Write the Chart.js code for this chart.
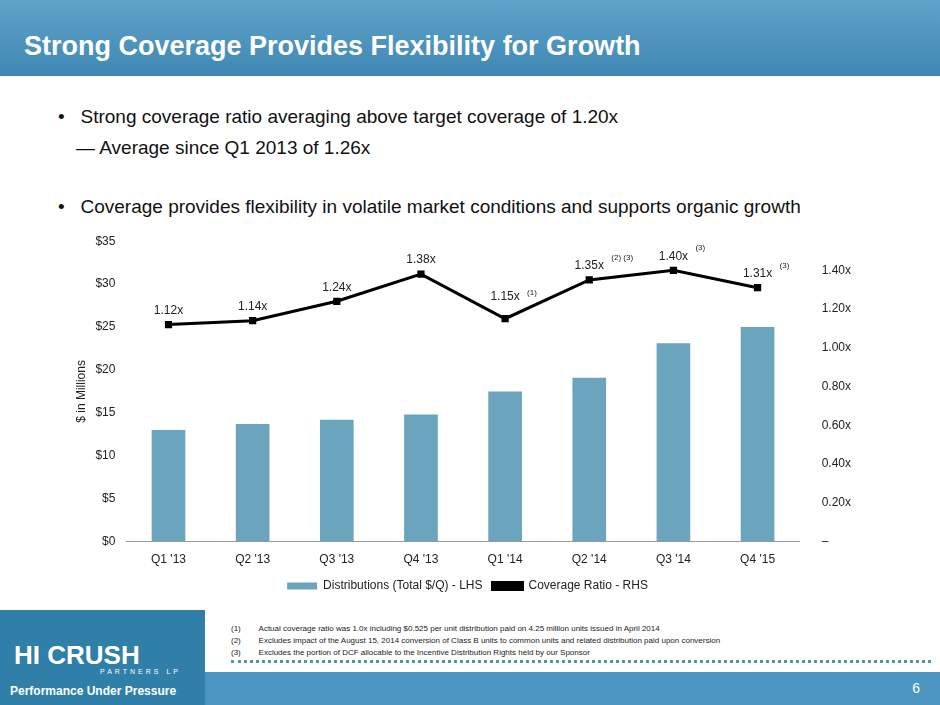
<!DOCTYPE html>
<html><head><meta charset="utf-8">
<script src="https://cdn.jsdelivr.net/npm/chart.js@4"></script>
<style>
body{margin:0;width:940px;height:705px;position:relative;overflow:hidden;background:#fff;font-family:"Liberation Sans",Arial,sans-serif}
#hdr{position:absolute;left:0;top:0;width:940px;height:76px;background:linear-gradient(180deg,#5fa3c9,#3f87b3)}
#hdr h1{margin:0;position:absolute;left:24px;top:31px;color:#fff;font-size:27px;font-weight:bold}
.b{position:absolute;font-size:19px;color:#111}
#foot{position:absolute;left:0;top:672px;width:940px;height:33px;background:#4b95c0}
#logo{position:absolute;left:0;top:610px;width:205px;height:95px;background:#2f7fa9;color:#fff}
.fn{position:absolute;font-size:8px;color:#222;left:231px}
#dots{position:absolute;left:231px;top:660px;width:700px;border-top:3px dotted #4b95c0}
#wrap{position:absolute;left:70px;top:220px;width:815px;height:382px}
</style></head><body>
<div id="hdr"><h1>Strong Coverage Provides Flexibility for Growth</h1></div>
<div class="b" style="left:58px;top:106px">•&nbsp;&nbsp; Strong coverage ratio averaging above target coverage of 1.20x</div>
<div class="b" style="left:76px;top:137px">— Average since Q1 2013 of 1.26x</div>
<div class="b" style="left:58px;top:196px">•&nbsp;&nbsp; Coverage provides flexibility in volatile market conditions and supports organic growth</div>
<div id="wrap"><canvas id="c"></canvas></div>
<div class="fn" style="top:624px">(1)&nbsp;&nbsp;&nbsp;&nbsp;&nbsp;&nbsp;&nbsp;&nbsp;Actual coverage ratio was 1.0x including $0.525 per unit distribution paid on 4.25 million units issued in April 2014</div>
<div class="fn" style="top:636px">(2)&nbsp;&nbsp;&nbsp;&nbsp;&nbsp;&nbsp;&nbsp;&nbsp;Excludes impact of the August 15, 2014 conversion of Class B units to common units and related distribution paid upon conversion</div>
<div class="fn" style="top:648px">(3)&nbsp;&nbsp;&nbsp;&nbsp;&nbsp;&nbsp;&nbsp;&nbsp;Excludes the portion of DCF allocable to the Incentive Distribution Rights held by our Sponsor</div>
<div id="dots"></div>
<div id="foot"><span style="position:absolute;right:20px;top:8px;color:#fff;font-size:14px">6</span></div>
<div id="logo"><div style="position:absolute;left:14px;top:30px;font-size:26px;font-weight:bold">HI CRUSH</div><div style="position:absolute;left:100px;top:58px;font-size:7px;letter-spacing:3px">PARTNERS LP</div><div style="position:absolute;left:10px;top:74px;font-size:12px;font-weight:bold">Performance Under Pressure</div></div>
<script>
const categories=["Q1 '13","Q2 '13","Q3 '13","Q4 '13","Q1 '14","Q2 '14","Q3 '14","Q4 '15"];
const distributions=[13.0,13.7,14.2,14.8,17.5,19.1,23.1,25.0];
const coverage=[1.12,1.14,1.24,1.38,1.15,1.35,1.40,1.31];
const notes=["","","","","(1)","(2) (3)","(3)","(3)"];
const labelPlugin={id:'lbl',afterDatasetsDraw(ch){
 const ctx=ch.ctx,m=ch.getDatasetMeta(1);
 m.data.forEach((p,i)=>{
  ctx.save();ctx.fillStyle='#222';ctx.font='12px "Liberation Sans",Arial';ctx.textAlign='center';
  const t=coverage[i].toFixed(2)+'x';let y=i==4?p.y-22:p.y-14;
  ctx.fillText(t,p.x,y);
  if(notes[i]){ctx.font='8px "Liberation Sans",Arial';ctx.textAlign='left';
   ctx.fillText(notes[i],p.x+22,y-(i==4?4:8));}
  ctx.restore();});
}};
const F={size:12,family:'"Liberation Sans",Arial'};
new Chart(document.getElementById('c'),{
 data:{labels:categories,datasets:[
  {type:'bar',label:'Distributions (Total $/Q) - LHS',data:distributions,backgroundColor:'#6aa5bd',yAxisID:'y',barPercentage:0.8,categoryPercentage:0.5,order:2},
  {type:'line',label:'Coverage Ratio - RHS',data:coverage,borderColor:'#000',backgroundColor:'#000',borderWidth:3,pointStyle:'rect',pointRadius:3,yAxisID:'y1',order:1}
 ]},
 options:{responsive:true,maintainAspectRatio:false,animation:false,
  layout:{padding:{top:6,right:20}},
  plugins:{legend:{position:'bottom',labels:{boxWidth:30,boxHeight:7,font:F,color:'#222',sort:(a,b)=>a.datasetIndex-b.datasetIndex}},tooltip:{enabled:false}},
  scales:{
   x:{grid:{display:false},border:{color:'#999'},ticks:{color:'#222',font:F}},
   y:{min:0,max:35,ticks:{stepSize:5,callback:v=>'$'+v,color:'#222',font:F},grid:{display:false},border:{display:false},
      title:{display:true,text:'$ in Millions',color:'#222',font:F}},
   y1:{position:'right',min:0,max:1.55,afterBuildTicks:a=>{a.ticks=[0,0.2,0.4,0.6,0.8,1.0,1.2,1.4].map(v=>({value:v}));},
      ticks:{callback:v=>v==0?'–':v.toFixed(2)+'x',color:'#222',font:F,padding:14},grid:{display:false},border:{display:false}}
  }}
 ,plugins:[labelPlugin]});
</script></body></html>
